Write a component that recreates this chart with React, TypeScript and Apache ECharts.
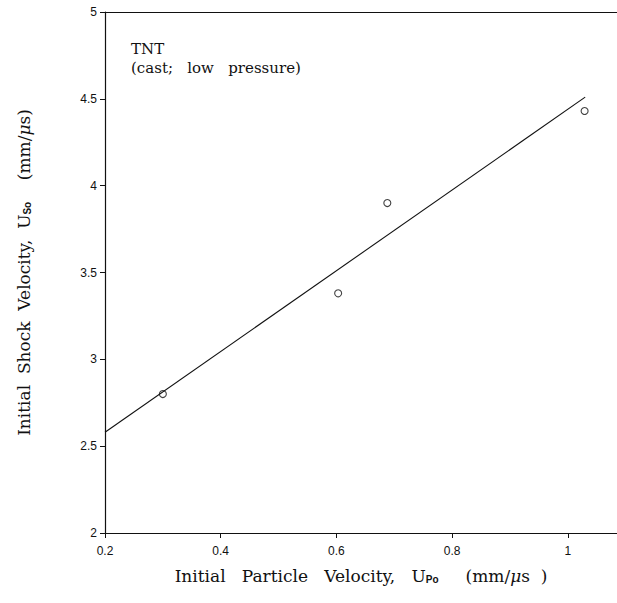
import React, { useEffect, useRef } from "react";
import * as echarts from "echarts";

const xTicks = [0.2, 0.4, 0.6, 0.8, 1.0];
const yTicks = [2, 2.5, 3, 3.5, 4, 4.5, 5];
const measuredUp = [0.3, 0.603, 0.688, 1.029];
const measuredUs = [2.8, 3.38, 3.9, 4.43];
const fitUp = [0.2, 1.03];
const fitUs = [2.58, 4.51];

export default function App() {
  const ref = useRef<HTMLDivElement>(null);
  useEffect(() => {
    if (!ref.current) return;
    const chart = echarts.init(ref.current, null, { renderer: "svg" });
    const serif = "DejaVu Serif";
    const tickFont = "Liberation Sans";
    const rich = {
      s: { fontSize: 10, verticalAlign: "bottom", padding: [7, 0, 0, 0], fontFamily: tickFont, fontWeight: "bold", color: "#111" },
      i: { fontSize: 17, fontStyle: "italic", fontFamily: serif, color: "#111" },
    };
    chart.setOption({
      animation: false,
      backgroundColor: "#ffffff",
      grid: { left: 105, right: 0, top: 12, bottom: 70 },
      xAxis: [
        {
          type: "value",
          min: 0.2,
          max: 1.085,
          interval: 0.2,
          axisLine: { show: true, lineStyle: { color: "#111", width: 1.2 } },
          axisTick: { show: true, length: 5, lineStyle: { color: "#111" } },
          splitLine: { show: false },
          axisLabel: {
            color: "#111",
            fontFamily: tickFont,
            fontSize: 12,
            margin: 12,
            showMaxLabel: false,
            formatter: (v: number) => (xTicks.some((t) => Math.abs(t - v) < 1e-6) ? String(+v.toFixed(1)) : ""),
          },
          name: "Initial   Particle   Velocity,   U{s|Po}     (mm/{i|μ}s  )",
          nameLocation: "middle",
          nameGap: 34,
          nameTextStyle: { color: "#111", fontFamily: serif, fontSize: 17, rich },
        },
        {
          type: "value",
          position: "top",
          min: 0.2,
          max: 1.085,
          axisLine: { show: true, lineStyle: { color: "#111", width: 1.2 } },
          axisTick: { show: false },
          axisLabel: { show: false },
          splitLine: { show: false },
        },
      ],
      yAxis: {
        type: "value",
        min: 2,
        max: 5,
        interval: 0.5,
        axisLine: { show: true, lineStyle: { color: "#111", width: 1.2 } },
        axisTick: { show: true, length: 5, lineStyle: { color: "#111" } },
        splitLine: { show: false },
        axisLabel: {
          color: "#111",
          fontFamily: tickFont,
          fontSize: 12,
          margin: 8,
          formatter: (v: number) => (yTicks.some((t) => Math.abs(t - v) < 1e-6) ? String(v) : ""),
        },
        name: "Initial  Shock  Velocity,  U{s|So}    (mm/{i|μ}s)",
        nameLocation: "middle",
        nameGap: 73,
        nameTextStyle: { color: "#111", fontFamily: serif, fontSize: 17, rich },
      },
      graphic: [
        {
          type: "text",
          left: 131,
          top: 41,
          style: { text: "TNT", fill: "#111", font: `15px "${serif}"`, lineHeight: 15 },
        },
        {
          type: "text",
          left: 131,
          top: 60,
          style: { text: "(cast;   low   pressure)", fill: "#111", font: `15px "${serif}"`, lineHeight: 15 },
        },
      ],
      series: [
        {
          type: "line",
          data: fitUp.map((x, i) => [x, fitUs[i]]),
          showSymbol: false,
          lineStyle: { color: "#111", width: 1.1 },
          xAxisIndex: 0,
        },
        {
          type: "scatter",
          data: measuredUp.map((x, i) => [x, measuredUs[i]]),
          symbol: "circle",
          symbolSize: 7,
          itemStyle: { color: "#ffffff", borderColor: "#111", borderWidth: 1.1 },
          xAxisIndex: 0,
        },
      ],
    });
    return () => chart.dispose();
  }, []);
  return (
    <div
      ref={ref}
      style={{ position: "fixed", left: 0, top: 0, width: 617, height: 603 }}
    />
  );
}
